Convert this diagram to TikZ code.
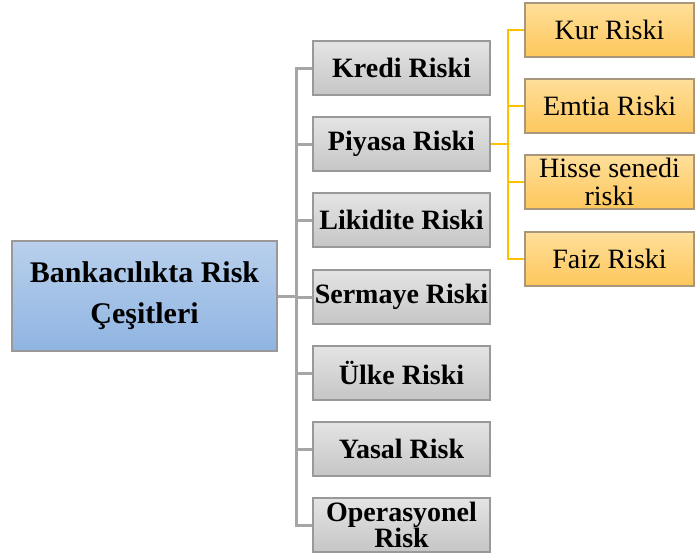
\documentclass[tikz,border=0pt]{standalone}
\usepackage{fontspec}
\setmainfont{Liberation Serif}
\usetikzlibrary{backgrounds}
\definecolor{edgegray}{HTML}{999999}
\definecolor{linkgray}{HTML}{A6A6A6}
\definecolor{linkgold}{HTML}{FFC000}
\definecolor{goldedge}{HTML}{A8977A}
\definecolor{rootTop}{HTML}{B9D0EC}
\definecolor{rootBot}{HTML}{8FB4E2}
\definecolor{grayTop}{HTML}{E4E4E4}
\definecolor{grayBot}{HTML}{C6C6C6}
\definecolor{goldTop}{HTML}{FFDF9A}
\definecolor{goldBot}{HTML}{FDC75C}
\tikzset{
  x=1pt, y=-1pt,
  rootbox/.style={draw=edgegray, line width=1.5pt, top color=rootTop, bottom color=rootBot,
    minimum width=265pt, minimum height=110pt, align=center, font=\fontsize{30}{41}\selectfont\bfseries},
  riskbox/.style={draw=edgegray, line width=1.5pt, top color=grayTop, bottom color=grayBot,
    minimum width=177pt, minimum height=54pt, inner sep=0pt, align=center, font=\fontsize{28}{25}\selectfont\bfseries},
  subbox/.style={draw=goldedge, line width=1.5pt, top color=goldTop, bottom color=goldBot,
    minimum width=169pt, minimum height=54pt, inner sep=0pt, align=center, font=\fontsize{28}{28}\selectfont},
  graylink/.style={draw=linkgray, line width=3pt, line cap=rect},
  goldlink/.style={draw=linkgold, line width=2.5pt, line cap=rect}
}
\begin{document}
\begin{tikzpicture}
\useasboundingbox (0,0) rectangle (695,557);
\coordinate (trunk) at (296,0);
\coordinate (gtrunk) at (508,0);
\node[rootbox] (root) at (144.5,296) {Bankacılıkta Risk\\Çeşitleri};
\node[riskbox] (kredi) at (401.5,68) {Kredi Riski};
\node[riskbox] (piyasa) at (401.5,144) {Piyasa Riski};
\node[riskbox] (likidite) at (401.5,220) {Likidite Riski};
\node[riskbox] (sermaye) at (401.5,297) {Sermaye Riski};
\node[riskbox] (ulke) at (401.5,373) {Ülke Riski};
\node[riskbox] (yasal) at (401.5,449) {Yasal Risk};
\node[riskbox] (oper) at (401.5,525) {Operasyonel\\Risk};
\node[subbox] (kur) at (609.5,30) {Kur Riski};
\node[subbox] (emtia) at (609.5,106) {Emtia Riski};
\node[subbox] (hisse) at (609.5,182) {Hisse senedi\\riski};
\node[subbox] (faiz) at (609.5,259) {Faiz Riski};
\begin{scope}[on background layer]
% gray tree from the root to the main risk types
\foreach \n in {kredi,piyasa,likidite,sermaye,ulke,yasal,oper}
  \draw[graylink] (\n.west) -- (trunk |- \n.west);
\draw[graylink] (trunk |- kredi.west) -- (trunk |- oper.west);
\draw[graylink] (root.east) -- (trunk |- root.east);
% gold tree from Piyasa Riski to its sub-types
\foreach \n in {kur,emtia,hisse,faiz}
  \draw[goldlink] (\n.west) -- (gtrunk |- \n.west);
\draw[goldlink] (gtrunk |- kur.west) -- (gtrunk |- faiz.west);
\draw[goldlink] (piyasa.east) -- (gtrunk |- piyasa.east);
\end{scope}
\end{tikzpicture}
\end{document}
